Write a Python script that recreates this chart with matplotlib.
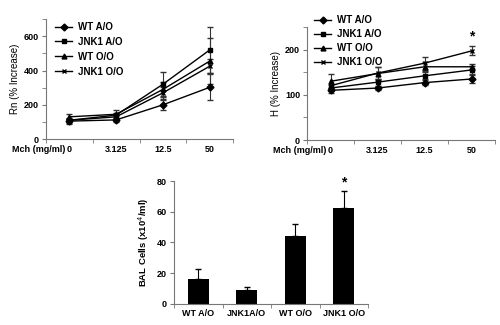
import numpy as np
import matplotlib
matplotlib.use("Agg")
import matplotlib.pyplot as plt
from matplotlib.lines import Line2D

plt.rcParams['font.family'] = ['Liberation Sans', 'DejaVu Sans']
plt.rcParams['font.size'] = 6.5

# data
doses = ["0", "3.125", "12.5", "50"]
groups = ["WT A/O", "JNK1 A/O", "WT O/O", "JNK1 O/O"]
markers = ["D", "s", "^", "x"]

rn_wt_ao = [105, 112, 200, 302]
rn_jnk_ao = [110, 140, 320, 520]
rn_wt_oo = [130, 145, 290, 455]
rn_jnk_oo = [110, 130, 270, 425]
rn_err_wt_ao = [15, 10, 28, 76]
rn_err_jnk_ao = [15, 15, 70, 132]
rn_err_wt_oo = [15, 25, 45, 135]
rn_err_jnk_oo = [10, 15, 35, 40]

h_wt_ao = [110, 115, 127, 135]
h_jnk_ao = [115, 128, 142, 155]
h_wt_oo = [130, 147, 162, 162]
h_jnk_oo = [120, 148, 170, 197]
h_err_wt_ao = [5, 4, 6, 8]
h_err_jnk_ao = [6, 8, 8, 8]
h_err_wt_oo = [15, 14, 10, 6]
h_err_jnk_oo = [5, 14, 14, 10]

bal_groups = ["WT A/O", "JNK1A/O", "WT O/O", "JNK1 O/O"]
bal_vals = [16.2, 9.0, 44.2, 62.3]
bal_err = [6.5, 2.2, 8.0, 11.2]

fig = plt.figure(figsize=(5, 3.25), dpi=100)
ax1 = fig.add_axes([0.092, 0.572, 0.374, 0.369])
ax2 = fig.add_axes([0.614, 0.569, 0.376, 0.348])
ax3 = fig.add_axes([0.348, 0.065, 0.388, 0.378])


def style_axis(ax, labels):
    for s in ["top", "right"]:
        ax.spines[s].set_visible(False)
    for s in ["left", "bottom"]:
        ax.spines[s].set_color("#777777")
        ax.spines[s].set_linewidth(0.8)
    x = np.arange(len(labels))
    ax.set_xlim(-0.5, len(labels) - 0.5)
    ax.set_xticks(x)
    ax.set_xticklabels(labels, fontweight="bold")
    ax.set_xticks(np.arange(len(labels) + 1) - 0.5, minor=True)
    ax.tick_params(axis="x", which="major", length=0, pad=4)
    ax.tick_params(axis="x", which="minor", length=3, color="#777777", direction="out")
    ax.tick_params(axis="y", which="both", length=3, color="#777777", direction="out", pad=2)
    for t in ax.get_yticklabels():
        t.set_fontweight("bold")


def line_panel(ax, series, errs, ylim, yticks, yminor, ylabel):
    x = np.arange(len(doses))
    for s, e, m in zip(series, errs, markers):
        ax.errorbar(x, s, yerr=e, color="black", marker=m, markersize=3.5,
                    mew=1, lw=1, capsize=2, elinewidth=0.8, ecolor="#333333")
    ax.set_ylim(*ylim)
    ax.set_yticks(yticks)
    ax.set_yticks(yminor, minor=True)
    style_axis(ax, doses)
    ax.set_ylabel(ylabel, fontsize=7, labelpad=3)
    ax.annotate("Mch (mg/ml)", xy=(0, 0), xycoords=("data", "axes fraction"),
                xytext=(-3, -4), textcoords="offset points",
                ha="right", va="top", fontweight="bold")


handles = [Line2D([], [], color="black", marker=m, markersize=3.5, mew=1, lw=1)
           for m in markers]

line_panel(ax1, [rn_wt_ao, rn_jnk_ao, rn_wt_oo, rn_jnk_oo],
           [rn_err_wt_ao, rn_err_jnk_ao, rn_err_wt_oo, rn_err_jnk_oo],
           (0, 700), [0, 200, 400, 600], [100, 300, 500, 700], "Rn (% Increase)")
ax1.legend(handles, groups, loc="upper left", bbox_to_anchor=(0.0, 1.05), frameon=False,
           handlelength=1.8, handletextpad=0.6, labelspacing=0.5,
           prop={"weight": "bold", "size": 7})

line_panel(ax2, [h_wt_ao, h_jnk_ao, h_wt_oo, h_jnk_oo],
           [h_err_wt_ao, h_err_jnk_ao, h_err_wt_oo, h_err_jnk_oo],
           (0, 250), [0, 100, 200], [50, 150, 250], "H (% Increase)")
ax2.legend(handles, groups, loc="upper left", bbox_to_anchor=(-0.01, 1.18), frameon=False,
           handlelength=1.8, handletextpad=0.6, labelspacing=0.4,
           prop={"weight": "bold", "size": 7})
ax2.text(3, 213, "*", ha="center", va="bottom", fontsize=10, fontweight="bold")

xb = np.arange(len(bal_groups))
ax3.bar(xb, bal_vals, width=0.43, color="black")
ax3.errorbar(xb, bal_vals, yerr=[np.zeros(len(bal_err)), bal_err], fmt="none",
             ecolor="black", elinewidth=0.8, capsize=2)
ax3.set_ylim(0, 80)
ax3.set_yticks([0, 20, 40, 60, 80])
style_axis(ax3, bal_groups)
ax3.set_ylabel("BAL Cells (x10$^4$/ml)", fontsize=6.8, fontweight="bold", labelpad=4)
ax3.text(3, 74.5, "*", ha="center", va="bottom", fontsize=10, fontweight="bold")

fig.savefig("out.png", dpi=100)
